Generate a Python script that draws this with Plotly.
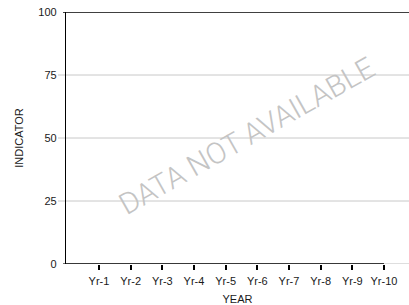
import plotly.graph_objects as go

years = ["Yr-1", "Yr-2", "Yr-3", "Yr-4", "Yr-5", "Yr-6", "Yr-7", "Yr-8", "Yr-9", "Yr-10"]
indicator = [None] * len(years)  # data not available
y_ticks = [0, 25, 50, 75, 100]
watermark = "DATA NOT AVAILABLE"

W, H = 409, 305
ML, MR, MT, MB = 66, 0, 12, 41
pw = W - ML - MR
ph = H - MT - MB

fig = go.Figure()
fig.add_trace(go.Scatter(x=years, y=indicator, mode="lines", showlegend=False,
                         line=dict(color="black")))

shapes = []
for v in y_ticks[1:-1]:
    shapes.append(dict(type="line", xref="paper", yref="y", x0=-8 / pw, x1=1, y0=v, y1=v,
                       line=dict(color="#c8c8c8", width=1), layer="below"))
shapes.append(dict(type="line", xref="paper", yref="y", x0=-3 / pw, x1=1, y0=y_ticks[0], y1=y_ticks[0],
                   line=dict(color="#bdbdbd", width=1), layer="below"))
shapes.append(dict(type="line", xref="paper", yref="y", x0=-3 / pw, x1=0, y0=y_ticks[0], y1=y_ticks[0],
                   line=dict(color="black", width=1)))
shapes.append(dict(type="line", xref="x", yref="y", x0=-1.042, x1=len(years) - 1, y0=y_ticks[0], y1=y_ticks[0],
                   line=dict(color="black", width=1.3)))
shapes.append(dict(type="line", xref="paper", yref="y", x0=-3 / pw, x1=1, y0=y_ticks[-1], y1=y_ticks[-1],
                   line=dict(color="black", width=1.3)))

fig.update_layout(
    width=W, height=H,
    margin=dict(l=ML, r=MR, t=MT, b=MB, autoexpand=False),
    paper_bgcolor="white", plot_bgcolor="white",
    font=dict(family="Liberation Sans, Arial, sans-serif", size=11, color="#1a1a1a"),
    shapes=shapes,
    xaxis=dict(
        type="category", categoryorder="array", categoryarray=years,
        tickmode="array", tickvals=years, ticktext=years,
        range=[-1.042, 9.79], showgrid=False, zeroline=False, showline=False,
        ticks="outside", ticklen=5, tickcolor="#000000", tickwidth=1.5,
        tickfont=dict(size=11), ticklabelstandoff=2,
        title=dict(text="YEAR", font=dict(size=11), standoff=9),
        fixedrange=True,
    ),
    yaxis=dict(
        range=[y_ticks[0], y_ticks[-1]], tickvals=y_ticks, showgrid=False, zeroline=False,
        showline=True, linecolor="black", linewidth=1.3,
        ticks="", tickfont=dict(size=11), ticklabelstandoff=6,
        title=dict(text="INDICATOR", font=dict(size=11), standoff=12),
        fixedrange=True,
    ),
    annotations=[dict(
        text=watermark, xref="paper", yref="paper",
        x=(247 - ML) / pw, y=(H - MB - 136) / ph,
        showarrow=False, textangle=-29.5,
        font=dict(size=29.5, color="#c4c4c4", family="Roboto, Liberation Sans, sans-serif", weight=300),
    )],
)

fig.write_html("out.html", config={"displayModeBar": False},
               post_script="document.body.style.margin='0px';document.body.style.overflow='hidden';")
